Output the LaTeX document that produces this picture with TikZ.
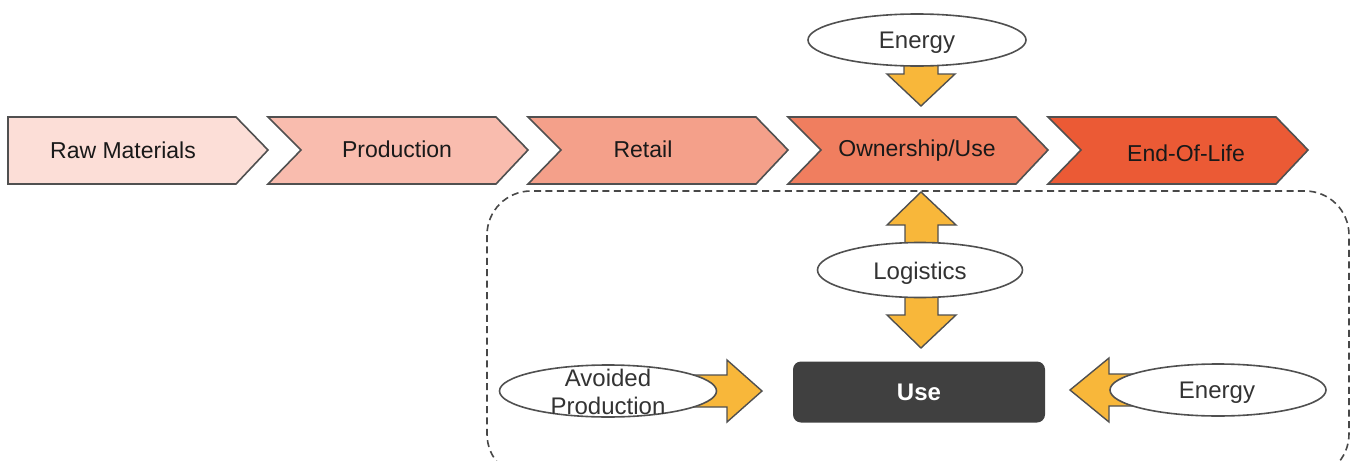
\documentclass[tikz,border=0pt]{standalone}
\usepackage{fontspec}
\setmainfont{Liberation Sans}
\usetikzlibrary{shapes.geometric}
\definecolor{cA}{HTML}{FCDED7}
\definecolor{cB}{HTML}{F9BCAE}
\definecolor{cC}{HTML}{F4A08A}
\definecolor{cD}{HTML}{F07E5F}
\definecolor{cE}{HTML}{EB5A35}
\definecolor{edge}{HTML}{505050}
\definecolor{arrowfill}{HTML}{F8B73A}
\definecolor{usebox}{HTML}{404040}
\definecolor{ovaltext}{HTML}{333333}
\newcommand{\chevshape}[2]{\filldraw[chev,fill=#2] (#1,117) -- ++(228,0) -- ++(32,33) -- ++(-32,34) -- ++(-228,0) -- ++(33,-34) -- cycle;}
\begin{document}
\begin{tikzpicture}[x=0.5pt,y=-0.5pt,
  chev/.style={draw=edge,line width=0.8pt,line join=miter},
  lab/.style={font=\fontsize{11.5}{13}\selectfont,text=black!90,inner sep=0pt},
  oval/.style={ellipse,draw=edge,fill=white,line width=0.8pt,inner sep=0pt,
    font=\fontsize{12}{14}\selectfont,text=ovaltext},
  ovallab/.style={font=\fontsize{12}{14}\selectfont,text=ovaltext,inner sep=0pt},
  blockarrow/.style={fill=arrowfill,draw=edge,line width=0.7pt,line join=miter}]
\useasboundingbox (0,0) rectangle (1357,461);
% dashed region
\begin{scope}
\clip (0,0) rectangle (1357,461);
\draw[edge!90!black,line width=0.8pt,dash pattern=on 3.5pt off 2.2pt,rounded corners=22pt]
  (487,191) rectangle (1349,478);
\end{scope}
% chevrons
\filldraw[chev,fill=cA] (8,117) -- (236,117) -- (268,150) -- (236,184) -- (8,184) -- cycle;
\chevshape{268}{cB}
\chevshape{528}{cC}
\chevshape{788}{cD}
\chevshape{1048}{cE}
\node[lab] (raw) at (123,150) {Raw Materials};
\node[lab] (prod) at (397,149) {Production};
\node[lab] (retail) at (643,149) {Retail};
\node[lab] (own) at (917,151) {Ownership/Use};
\node[lab] (eol) at (1186,153) {End-Of-Life};
% top energy
\filldraw[blockarrow] (904,58) -- (904,74) -- (887,74) -- (921,106) -- (955,74) -- (938,74) -- (938,58) -- cycle;
\node[oval,minimum width=109pt,minimum height=26pt] (energyTop) at (917,40) {};
\node[ovallab] (energyTopTxt) at (917,43) {Energy};
% logistics
\filldraw[blockarrow] (905,225) -- (887,225) -- (921,192) -- (956,225) -- (938,225) -- (938,315) -- (956,315) -- (921,348) -- (887,315) -- (905,315) -- cycle;
\node[oval,minimum width=102.5pt,minimum height=27.5pt] (logi) at (920,270) {};
\node[ovallab] (logiTxt) at (920,273) {Logistics};
% use box
\node[fill=usebox,rounded corners=4pt,minimum width=126pt,minimum height=30.5pt,inner sep=0pt,
  text=white,font=\bfseries\fontsize{12}{14}\selectfont] (use) at (919,392) {Use};
% avoided production
\filldraw[blockarrow] (680,375) -- (727,375) -- (727,360) -- (762,391) -- (727,422) -- (727,407) -- (680,407) -- cycle;
\node[oval,minimum width=108.5pt,minimum height=26pt] (avoid) at (608,391) {};
\node[ovallab,align=center] (avoidtxt) at (608,392) {Avoided\\[-0.3pt]Production};
% right energy
\filldraw[blockarrow] (1150,374) -- (1109,374) -- (1109,358) -- (1070,390) -- (1109,422) -- (1109,406) -- (1150,406) -- cycle;
\node[oval,minimum width=108pt,minimum height=26pt] (energyRight) at (1218,390) {};
\node[ovallab] (energyRightTxt) at (1217,393) {Energy};
\end{tikzpicture}
\end{document}
